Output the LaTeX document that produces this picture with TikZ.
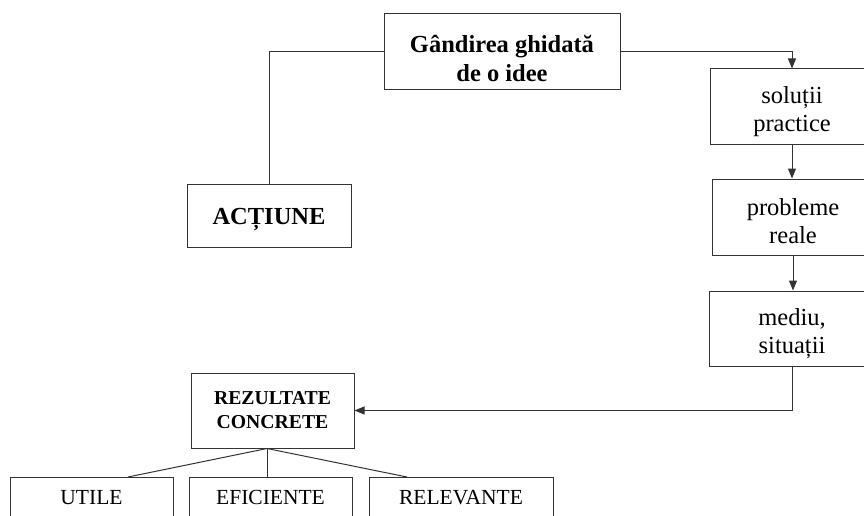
\documentclass[tikz,border=0pt]{standalone}
\usepackage{fontspec}
\setmainfont{Liberation Serif}
\usetikzlibrary{arrows.meta}
\newcommand{\dnstrut}[1]{\rule{0pt}{#1pt}}
\begin{document}
\begin{tikzpicture}[x=1pt,y=-1pt,
  box/.style={draw=black!80, line width=1pt, align=center, inner sep=0pt,
    font=\fontsize{24.5}{28}\selectfont},
  boldbox/.style={box, font=\fontsize{24.5}{29}\selectfont\bfseries},
  smallbold/.style={box, font=\fontsize{19.7}{24}\selectfont\bfseries},
  bottombox/.style={draw=black!80, line width=1pt, anchor=north, inner xsep=0pt,
    inner ysep=8pt, text height=19pt, text depth=50pt,
    font=\fontsize{21.5}{25}\selectfont},
  conn/.style={draw=black!80, line width=1pt},
  arr/.style={conn, -{Triangle[length=10pt,width=8pt]}}]
\useasboundingbox (0,0) rectangle (864,516);
\node[boldbox, minimum width=236pt, minimum height=76pt] (g) at (502,52) {\dnstrut{31}Gândirea ghidată\\de o idee};
\node[boldbox, minimum width=164pt, minimum height=63pt] (a) at (269,215.5) {\dnstrut{24}ACȚIUNE};
\node[box, minimum width=164pt, minimum height=75pt] (s) at (792,106.5) {\dnstrut{28}soluții\\practice};
\node[box, minimum width=162pt, minimum height=76pt] (p) at (793,217) {\dnstrut{26}probleme\\reale};
\node[box, minimum width=166pt, minimum height=75pt] (m) at (792,328.5) {\dnstrut{28}mediu,\\situații};
\node[smallbold, minimum width=163pt, minimum height=75pt] (r) at (272.5,410.5) {REZULTATE\\CONCRETE};
\node[bottombox, minimum width=163pt] (u) at (91.5,477) {UTILE};
\node[bottombox, minimum width=163pt] (e) at (270.5,477) {EFICIENTE};
\node[bottombox, minimum width=184pt] (v) at (461,477) {RELEVANTE};
\coordinate (rj) at ([xshift=-5.5pt]r.south);
\draw[conn] (g.west) -| (a.north);
\draw[arr] (g.east) -| (s.north);
\draw[arr] (s.south) -- (s.south |- p.north);
\draw[arr] (p.south) -- (p.south |- m.north);
\draw[arr] (m.south) |- (r.east);
\draw[conn] (rj) -- ([xshift=36.5pt]u.north);
\draw[conn] (rj) -- (rj |- e.north);
\draw[conn] (rj) -- ([xshift=-54pt]v.north);
\end{tikzpicture}
\end{document}
